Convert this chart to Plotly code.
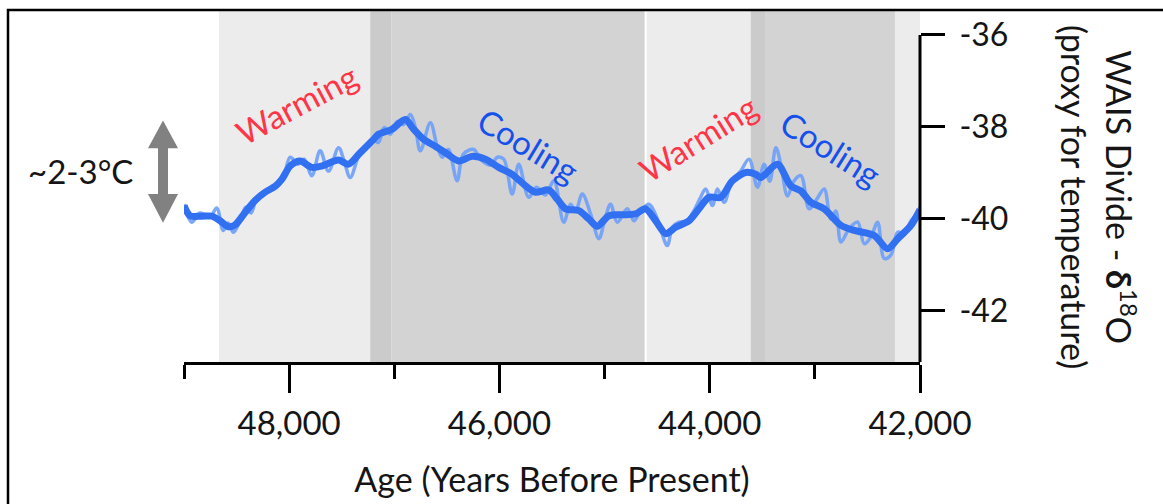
import plotly.graph_objects as go

# ---- WAIS Divide δ18O record (age in years BP, δ18O in ‰) ----
smooth_age = [49000, 48943, 48831, 48736, 48657, 48578, 48514, 48419, 48324, 48229,
              48133, 48070, 47990, 47895, 47784, 47689, 47530, 47435, 47324, 47197,
              47150, 47022, 46895, 46816, 46721, 46610, 46514, 46388, 46260, 46133,
              46007, 45879, 45752, 45657, 45530, 45450, 45371, 45245, 45150, 45070,
              44959, 44831, 44705, 44610, 44514, 44419, 44324, 44197, 44102, 44007,
              43895, 43784, 43657, 43562, 43514, 43355, 43229, 43133, 43038, 42911,
              42752, 42626, 42435, 42308, 42212, 42086, 42000]
smooth_d18o = [-39.71, -39.93, -39.94, -39.94, -40.04, -40.17, -40.13, -39.86, -39.60, -39.42,
               -39.29, -39.14, -38.85, -38.74, -38.88, -38.85, -38.72, -38.81, -38.56, -38.27,
               -38.16, -38.05, -37.84, -38.05, -38.27, -38.42, -38.56, -38.74, -38.64, -38.70,
               -38.88, -39.03, -39.28, -39.42, -39.37, -39.57, -39.78, -39.82, -40.00, -40.16,
               -39.93, -39.91, -39.89, -39.78, -40.04, -40.32, -40.18, -40.04, -39.78, -39.53,
               -39.53, -39.17, -38.99, -39.03, -39.10, -38.81, -39.28, -39.39, -39.64, -39.78,
               -40.14, -40.25, -40.36, -40.65, -40.43, -40.14, -39.80]

raw_age = [49000, 48927, 48848, 48752, 48689, 48626, 48581, 48530, 48467, 48410,
           48362, 48305, 48229, 48133, 48067, 47990, 47914, 47857, 47784, 47705,
           47626, 47530, 47476, 47419, 47343, 47267, 47210, 47152, 47095, 47038,
           46971, 46914, 46848, 46800, 46752, 46657, 46590, 46543, 46486, 46403,
           46343, 46245, 46181, 46086, 46019, 45959, 45879, 45816, 45721, 45648,
           45562, 45483, 45388, 45324, 45276, 45212, 45133, 45054, 45000, 44943,
           44879, 44784, 44721, 44657, 44578, 44505, 44457, 44403, 44352, 44292,
           44219, 44152, 44095, 44038, 43974, 43927, 43863, 43790, 43705, 43626,
           43546, 43483, 43429, 43371, 43324, 43260, 43200, 43133, 43054, 42981,
           42911, 42848, 42800, 42752, 42676, 42593, 42530, 42467, 42403, 42340,
           42276, 42212, 42152, 42086, 42029, 42000]
raw_d18o = [-39.68, -40.07, -39.87, -39.96, -39.76, -40.25, -40.09, -40.29, -40.04, -39.74,
            -39.87, -39.52, -39.39, -39.26, -39.18, -38.66, -38.81, -38.70, -39.06, -38.52,
            -38.96, -38.45, -38.75, -39.10, -38.66, -38.40, -38.27, -38.34, -38.01, -38.16,
            -37.88, -37.95, -37.73, -38.01, -38.52, -37.91, -38.44, -38.66, -38.49, -39.17,
            -38.59, -38.49, -38.70, -38.83, -38.66, -38.70, -39.46, -38.81, -39.53, -39.31,
            -39.48, -39.17, -40.07, -39.68, -39.83, -39.46, -39.89, -40.43, -40.04, -39.68,
            -40.07, -39.78, -40.04, -39.83, -39.68, -39.96, -40.30, -40.58, -40.17, -40.07,
            -40.04, -39.83, -39.57, -39.35, -39.71, -39.35, -39.64, -39.18, -38.96, -38.70,
            -39.31, -38.81, -39.18, -38.45, -38.81, -39.50, -39.18, -39.06, -39.78, -39.57,
            -39.35, -40.00, -39.83, -40.50, -40.22, -40.07, -40.54, -40.39, -40.07, -40.86,
            -40.78, -40.29, -40.32, -40.04, -39.89, -39.74]

# ---- climate phase bands (years BP) ----
band_start = [48667, 47229, 47029, 44600, 43610, 43467, 42238]
band_end = [47229, 47029, 44619, 43610, 43467, 42238, 42000]
band_color = ["#ececec", "#cbcbcb", "#d3d3d3", "#ececec", "#cbcbcb", "#d3d3d3", "#ececec"]

# ---- phase labels ----
phase_text = ["Warming", "Cooling", "Warming", "Cooling"]
phase_age = [47933, 45724, 44114, 42848]
phase_d18o = [-37.51, -38.40, -38.23, -38.45]
phase_angle = [-28, 31, -32, 32]
phase_color = ["#ff3547", "#1550ec", "#ff3547", "#1550ec"]

# ---- axes ----
x_ticks = [48000, 46000, 44000, 42000]
x_ticktext = ["48,000", "46,000", "44,000", "42,000"]
x_minor = [49000, 47000, 45000, 43000]
y_ticks = [-36, -38, -40, -42]
y_ticktext = ["-36", "-38", "-40", "-42"]

X_RANGE = [49000, 42000]
Y_RANGE = [-43.11, -35.48]

W, H = 1163, 504
L, R, T, B = 184, 243, 11, 140
FONT = "Lato, 'Open Sans', sans-serif"
INK = "#151515"


def px_x(p):
    return (p - L) / (W - L - R)


def px_y(p):
    return (H - B - p) / (H - T - B)


def val_y(v):
    return (v - Y_RANGE[0]) / (Y_RANGE[1] - Y_RANGE[0])


fig = go.Figure()

fig.add_trace(go.Scatter(
    x=raw_age, y=raw_d18o, mode="lines",
    line=dict(color="rgba(110,158,250,0.9)", width=3.5, shape="spline", smoothing=1.0),
    hoverinfo="skip", showlegend=False,
))
fig.add_trace(go.Scatter(
    x=smooth_age, y=smooth_d18o, mode="lines",
    line=dict(color="#3270f2", width=7, shape="spline", smoothing=0.8),
    showlegend=False,
))

shapes = []
for s, e, c in zip(band_start, band_end, band_color):
    shapes.append(dict(type="rect", xref="x", yref="paper", x0=s, x1=e, y0=0, y1=1,
                       fillcolor=c, line=dict(width=0), layer="below"))

# right-hand axis spine, from -36 down to the time axis
shapes.append(dict(type="line", xref="paper", yref="paper", x0=1, x1=1,
                   y0=val_y(y_ticks[0]), y1=0, line=dict(color="black", width=3)))

# outer frame
shapes.append(dict(type="rect", xref="paper", yref="paper",
                   x0=px_x(8), x1=px_x(1180), y0=px_y(520), y1=px_y(10),
                   line=dict(color="black", width=2.5), fillcolor="rgba(0,0,0,0)"))

# double-headed range arrow
ax_c, head_w, shaft_w = 163, 15, 5
top, head1, head2, bottom = 121, 149, 195, 224
arrow_path = (
    f"M {px_x(ax_c)},{px_y(top)} L {px_x(ax_c + head_w)},{px_y(head1)} "
    f"L {px_x(ax_c + shaft_w)},{px_y(head1)} L {px_x(ax_c + shaft_w)},{px_y(head2)} "
    f"L {px_x(ax_c + head_w)},{px_y(head2)} L {px_x(ax_c)},{px_y(bottom)} "
    f"L {px_x(ax_c - head_w)},{px_y(head2)} L {px_x(ax_c - shaft_w)},{px_y(head2)} "
    f"L {px_x(ax_c - shaft_w)},{px_y(head1)} L {px_x(ax_c - head_w)},{px_y(head1)} Z"
)
shapes.append(dict(type="path", xref="paper", yref="paper", path=arrow_path,
                   fillcolor="#818181", line=dict(width=0)))

annotations = []
for t, a, v, ang, c in zip(phase_text, phase_age, phase_d18o, phase_angle, phase_color):
    annotations.append(dict(x=a, y=v, xref="x", yref="y", text=t, showarrow=False,
                            textangle=ang, xanchor="center", yanchor="middle",
                            font=dict(family=FONT, size=33, color=c)))

annotations.append(dict(x=px_x(80), y=px_y(172), xref="paper", yref="paper",
                        text="~2-3°C", showarrow=False, xanchor="center", yanchor="middle",
                        font=dict(family=FONT, size=33, color=INK)))

annotations.append(dict(x=px_x(1099), y=px_y(198), xref="paper", yref="paper",
                        text="WAIS Divide - <b>δ</b><sup>18</sup>O<br>(proxy for temperature)",
                        showarrow=False, textangle=90, xanchor="center", yanchor="middle",
                        align="center",
                        font=dict(family=FONT, size=34, color=INK)))

fig.update_layout(
    width=W, height=H, autosize=False,
    margin=dict(l=L, r=R, t=T, b=B, pad=0),
    paper_bgcolor="white", plot_bgcolor="white",
    shapes=shapes, annotations=annotations,
    font=dict(family=FONT, color=INK),
    xaxis=dict(
        range=X_RANGE, showgrid=False, zeroline=False,
        showline=True, linecolor="black", linewidth=3,
        ticks="outside", ticklen=28, tickwidth=3, tickcolor="black",
        tickvals=x_ticks, ticktext=x_ticktext, ticklabelstandoff=2,
        tickfont=dict(family=FONT, size=33, color=INK),
        minor=dict(tickvals=x_minor, ticks="outside", ticklen=14, tickwidth=3,
                   tickcolor="black", showgrid=False),
        title=dict(text="Age (Years Before Present)", standoff=28,
                   font=dict(family=FONT, size=34, color=INK)),
    ),
    yaxis=dict(
        range=Y_RANGE, side="right", showgrid=False, zeroline=False, showline=False,
        ticks="outside", ticklen=24, tickwidth=3, tickcolor="black",
        tickvals=y_ticks, ticktext=y_ticktext, ticklabelstandoff=8,
        tickfont=dict(family=FONT, size=32, color=INK),
    ),
)

fig.write_html("out.html")
